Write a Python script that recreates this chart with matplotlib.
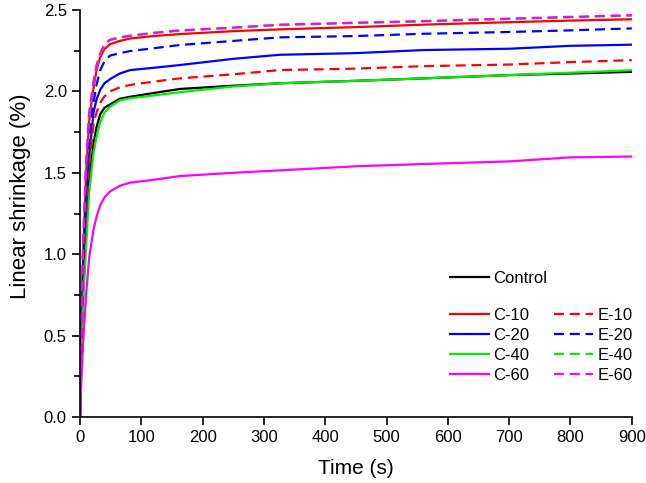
import matplotlib
matplotlib.use("Agg")
import matplotlib.pyplot as plt
from matplotlib.lines import Line2D
from matplotlib.ticker import MultipleLocator

# time (s)
t = [0, 2, 5, 10, 15, 22, 27, 33, 40, 49, 65, 82, 120, 163, 250, 326, 450, 560, 700, 800, 900]

# linear shrinkage (%)
control = [0, 0.35, 0.75, 1.15, 1.45, 1.68, 1.78, 1.86, 1.90, 1.92, 1.955, 1.967, 1.99, 2.015, 2.035, 2.05, 2.065, 2.08, 2.10, 2.11, 2.12]
c10 = [0, 0.5, 1.0, 1.5, 1.82, 2.02, 2.13, 2.21, 2.26, 2.29, 2.31, 2.325, 2.34, 2.352, 2.37, 2.381, 2.395, 2.41, 2.425, 2.435, 2.443]
c20 = [0, 0.4, 0.9, 1.3, 1.6, 1.87, 1.95, 2.01, 2.05, 2.075, 2.11, 2.131, 2.145, 2.162, 2.2, 2.225, 2.235, 2.254, 2.262, 2.28, 2.287]
c40 = [0, 0.3, 0.68, 1.05, 1.38, 1.62, 1.72, 1.81, 1.87, 1.905, 1.945, 1.958, 1.975, 1.995, 2.03, 2.05, 2.065, 2.08, 2.10, 2.115, 2.13]
c60 = [0, 0.2, 0.45, 0.75, 0.98, 1.15, 1.23, 1.30, 1.35, 1.385, 1.42, 1.44, 1.457, 1.48, 1.50, 1.515, 1.54, 1.554, 1.57, 1.595, 1.60]
e10 = [0, 0.4, 0.85, 1.25, 1.55, 1.80, 1.87, 1.93, 1.97, 2.0, 2.025, 2.04, 2.06, 2.08, 2.105, 2.131, 2.14, 2.155, 2.165, 2.18, 2.192]
e20 = [0, 0.45, 0.95, 1.4, 1.70, 1.93, 2.04, 2.13, 2.185, 2.22, 2.235, 2.248, 2.265, 2.285, 2.31, 2.332, 2.34, 2.354, 2.365, 2.375, 2.387]
e40 = [0, 0.5, 1.05, 1.55, 1.86, 2.05, 2.15, 2.23, 2.285, 2.315, 2.33, 2.34, 2.358, 2.373, 2.39, 2.408, 2.42, 2.43, 2.445, 2.455, 2.466]
e60 = [0, 0.52, 1.07, 1.57, 1.87, 2.06, 2.16, 2.235, 2.29, 2.318, 2.332, 2.342, 2.36, 2.375, 2.392, 2.41, 2.422, 2.432, 2.447, 2.458, 2.468]

plt.rcParams['font.family'] = ['Liberation Sans', 'DejaVu Sans']

fig = plt.figure(figsize=(6.46, 4.83), dpi=100)
ax = fig.add_axes([0.1238, 0.1366, 0.8542, 0.8427])

lw = 1.6
dash = (0, (4.5, 2.6))
ax.plot(t, control, color='black', lw=lw)
ax.plot(t, c10, color='#ff0000', lw=lw)
ax.plot(t, c20, color='#0000ff', lw=lw)
ax.plot(t, c40, color='#00ee00', lw=lw)
ax.plot(t, c60, color='#ff00ff', lw=lw)
ax.plot(t, e10, color='#ff0000', lw=lw, linestyle=dash)
ax.plot(t, e20, color='#0000ff', lw=lw, linestyle=dash)
ax.plot(t, e40, color='#00ee00', lw=lw, linestyle=dash)
ax.plot(t, e60, color='#ff00ff', lw=lw, linestyle=dash)

ax.set_xlim(0, 900)
ax.set_ylim(0, 2.5)
ax.xaxis.set_major_locator(MultipleLocator(100))
ax.yaxis.set_major_locator(MultipleLocator(0.5))
ax.yaxis.set_minor_locator(MultipleLocator(0.25))
ax.yaxis.set_major_formatter(plt.FormatStrFormatter('%.1f'))
ax.spines['top'].set_visible(False)
ax.spines['right'].set_visible(False)
for s in ['left', 'bottom']:
    ax.spines[s].set_linewidth(1.2)
ax.tick_params(which='major', direction='out', length=6, width=1.2, labelsize=12)
ax.tick_params(which='minor', direction='out', length=4, width=1.2)

ax.set_xlabel('Time (s)', fontsize=15, labelpad=10)
ax.set_ylabel('Linear shrinkage (%)', fontsize=16)
ax.yaxis.set_label_coords(-0.088, 0.543)

# legends
leg_kw = dict(frameon=False, fontsize=12, handlelength=2.35, handletextpad=0.25,
              borderpad=0, borderaxespad=0)
h_ctrl = [Line2D([], [], color='black', lw=lw)]
leg1 = ax.legend(h_ctrl, ['Control'], loc='center left', bbox_to_anchor=(0.670, 0.3415), **leg_kw)
ax.add_artist(leg1)

cols = ['#ff0000', '#0000ff', '#00ee00', '#ff00ff']
handles = [Line2D([], [], color=c, lw=lw) for c in cols] + \
          [Line2D([], [], color=c, lw=lw, linestyle=dash) for c in cols]
labels = ['C-10', 'C-20', 'C-40', 'C-60', 'E-10', 'E-20', 'E-40', 'E-60']
ax.legend(handles, labels, ncol=2, loc='center left', bbox_to_anchor=(0.670, 0.1757),
          columnspacing=1.5, labelspacing=0.3, **leg_kw)

fig.savefig('out.png', dpi=100)
